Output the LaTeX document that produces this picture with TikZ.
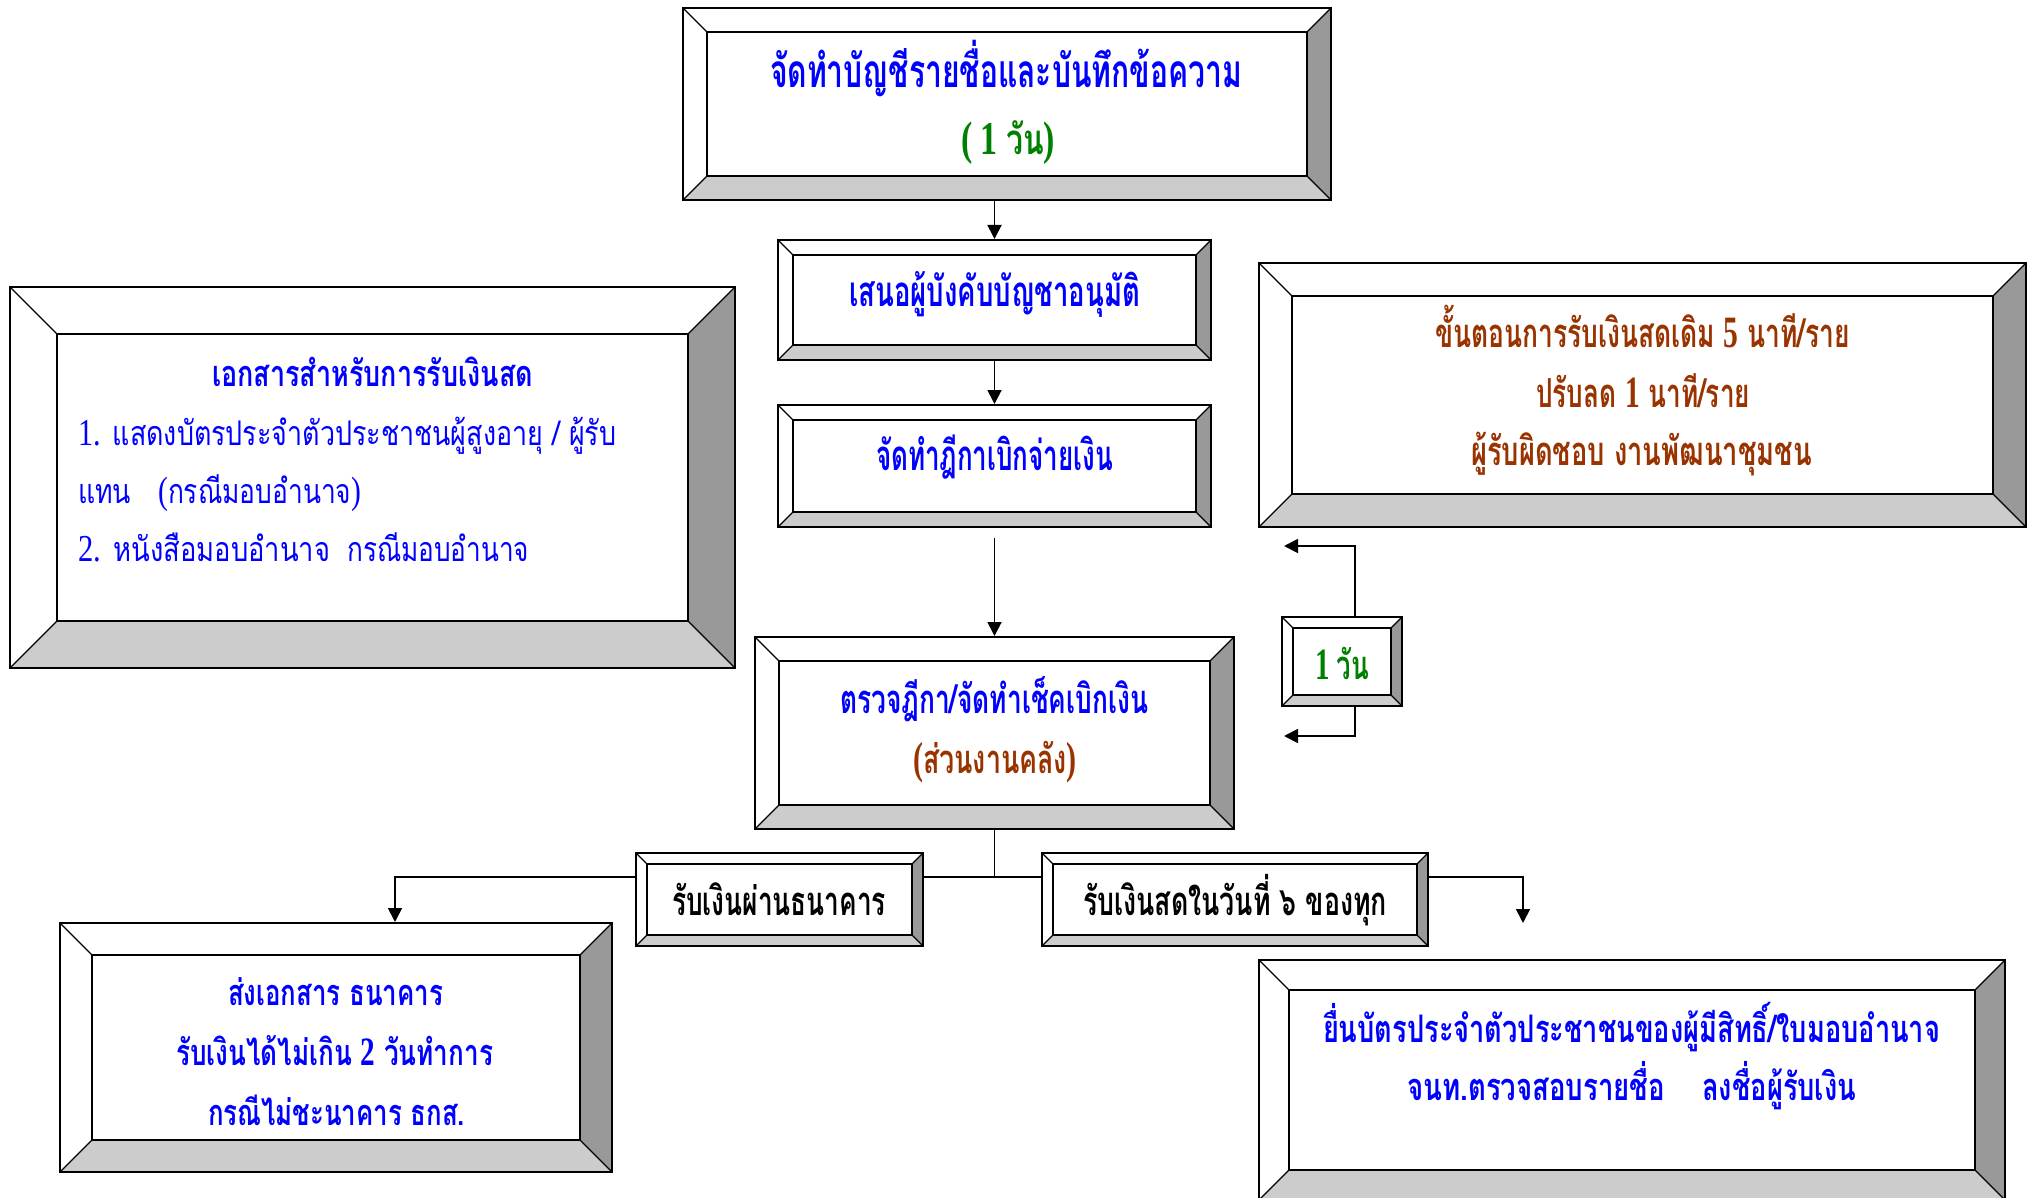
\documentclass[tikz,border=0pt]{standalone}
\usepackage{fontspec}
\usepackage{graphicx}
\usetikzlibrary{arrows.meta,backgrounds}
\newfontfamily\thai[Script=Thai]{Loma}
\newfontfamily\lat{Liberation Serif}
\definecolor{tblue}{RGB}{0,0,255}
\definecolor{tgreen}{RGB}{0,128,0}
\definecolor{tbrown}{RGB}{153,51,0}
\definecolor{bevdark}{RGB}{153,153,153}
\definecolor{bevlight}{RGB}{204,204,204}
\newlength\fitlen
\newcommand\fitto[2]{\settowidth{\fitlen}{#2}\pgfmathsetmacro\fitr{#1/\fitlen}\scalebox{\fitr}[1]{#2}}
\makeatletter
\newcommand\dg[1]{{\lat\fontsize{\fpeval{1.12*\f@size}}{10}\selectfont #1}}
\makeatother
\begin{document}
\begin{tikzpicture}[x=1pt,y=-1pt,
  bev/.style={rectangle, draw=black, line width=2pt, fill=white, inner sep=0pt,
    path picture={
      \path (path picture bounding box.south west) coordinate (bsw)
            (path picture bounding box.north east) coordinate (bne);
      \path (bsw) ++(#1pt,#1pt) coordinate (isw);
      \path (bne) ++(-#1pt,-#1pt) coordinate (ine);
      \fill[bevdark] (bne) -- (ine) -- (isw -| ine) -- (bsw -| bne) -- cycle;
      \fill[bevlight] (bsw) -- (isw) -- (isw -| ine) -- (bsw -| bne) -- cycle;
      \draw[line width=2pt] (isw) rectangle (ine);
      \draw[line width=1.3pt] (bsw) -- (isw) (bne) -- (ine)
        (bsw -| bne) -- (isw -| ine) (bne -| bsw) -- (ine -| isw);
    }},
  conn/.style={draw=black, line width=1.8pt},
  arr/.style={conn, -{Triangle[length=14pt,width=14pt]}},
  bt/.style={inner sep=0pt, anchor=base, font={\thai\bfseries\fontsize{#1}{#1}\selectfont}},
  rt/.style={inner sep=0pt, anchor=base west, font={\thai\fontsize{#1}{#1}\selectfont}}
]
\useasboundingbox (0,0) rectangle (2035,1198);
\clip (0,0) rectangle (2035,1198);
% boxes
\node[bev=24, minimum width=648pt, minimum height=192pt] (A) at (1007,104) {};
\node[bev=15, minimum width=433pt, minimum height=120pt] (B) at (994.5,300) {};
\node[bev=15, minimum width=433pt, minimum height=122pt] (C) at (994.5,466) {};
\node[bev=24, minimum width=479pt, minimum height=192pt] (D) at (994.5,733) {};
\node[bev=47, minimum width=725pt, minimum height=381pt] (E) at (372.5,477.5) {};
\node[bev=33, minimum width=767pt, minimum height=264pt] (F) at (1642.5,395) {};
\node[bev=11, minimum width=120pt, minimum height=89pt] (G) at (1342,661.5) {};
\node[bev=11, minimum width=287pt, minimum height=93pt] (H) at (779.5,899.5) {};
\node[bev=11, minimum width=386pt, minimum height=93pt] (I) at (1235,899.5) {};
\node[bev=32, minimum width=552pt, minimum height=249pt] (J) at (336,1047.5) {};
\node[bev=30, minimum width=746pt, minimum height=240pt] (K) at (1632,1080) {};
% free coordinates
\coordinate (jn) at (994.5,877);
\coordinate (jl) at (395,877);
\coordinate (jr) at (1523,877);
\coordinate (kr) at (1523,923);
\coordinate (gu) at (1284,546);
\coordinate (gd) at (1284,736);
\begin{pgfonlayer}{background}
\fill[white] (0,0) rectangle (2035,1198);
\draw[arr] (A.south -| B.north) -- (B.north);
\draw[arr] (B.south) -- (C.north);
\draw[arr] ([yshift=-10pt]C.south) -- (D.north);
\draw[conn] (D.south) -- (jn);
\draw[arr] (jn) -- (jl) -- (jl |- J.north);
\draw[arr] (jn) -- (jr) -- (kr);
\draw[arr] ([xshift=13pt]G.north) |- (gu);
\draw[arr] ([xshift=13pt]G.south) |- (gd);
\end{pgfonlayer}
% texts
\node[bt=46, text=tblue] (a1) at (1006,88) {\fitto{472}{จัดทำบัญชีรายชื่อและบันทึกข้อความ}};
\node[bt=42, text=tgreen] (a2) at (1008,155) {\fitto{94}{\dg{( 1 }วัน\dg{)}}};
\node[bt=42, text=tblue] (b1) at (994.5,307) {\fitto{291}{เสนอผู้บังคับบัญชาอนุมัติ}};
\node[bt=42, text=tblue] (c1) at (994.5,470) {\fitto{237}{จัดทำฎีกาเบิกจ่ายเงิน}};
\node[bt=40, text=tblue] (d1) at (994,713) {\fitto{308}{ตรวจฎีกา/จัดทำเช็คเบิกเงิน}};
\node[bt=40, text=tbrown] (d2) at (995,773) {\fitto{164}{\dg{(}ส่วนงานคลัง\dg{)}}};
\node[bt=40, text=tgreen] (g1) at (1342,679) {\fitto{54}{\dg{1 }วัน}};
\node[bt=40, text=tbrown] (f1) at (1642.5,348) {\fitto{415}{ขั้นตอนการรับเงินสดเดิม \dg{5} นาที/ราย}};
\node[bt=40, text=tbrown] (f2) at (1643,407) {\fitto{214}{ปรับลด \dg{1} นาที/ราย}};
\node[bt=40, text=tbrown] (f3) at (1641.5,465) {\fitto{341}{ผู้รับผิดชอบ งานพัฒนาชุมชน}};
\node[bt=36, text=tblue] (e0) at (372.5,386) {\fitto{321}{เอกสารสำหรับการรับเงินสด}};
\node[rt=34, text=tblue] (e1) at (78,445) {\fitto{538}{\dg{1.} แสดงบัตรประจำตัวประชาชนผู้สูงอายุ / ผู้รับ}};
\node[rt=34, text=tblue] (e2) at (78,503) {\fitto{53}{แทน}\hspace{27pt}\fitto{203}{\dg{(}กรณีมอบอำนาจ\dg{)}}};
\node[rt=34, text=tblue] (e3) at (78,561) {\fitto{252}{\dg{2.} หนังสือมอบอำนาจ}\hspace{17pt}\fitto{182}{กรณีมอบอำนาจ}};
\node[bt=40, text=black] (h1) at (779,915) {\fitto{214}{รับเงินผ่านธนาคาร}};
\node[bt=40, text=black] (i1) at (1235,915) {\fitto{304}{รับเงินสดในวันที่ ๖ ของทุก}};
\node[bt=36, text=tblue] (j1) at (335.5,1005) {\fitto{215}{ส่งเอกสาร ธนาคาร}};
\node[bt=36, text=tblue] (j2) at (334.5,1065) {\fitto{317}{รับเงินได้ไม่เกิน \dg{2} วันทำการ}};
\node[bt=36, text=tblue] (j3) at (336.5,1125) {\fitto{257}{กรณีไม่ชะนาคาร ธกส.}};
\node[bt=38, text=tblue] (k1) at (1631.5,1042) {\fitto{617}{ยื่นบัตรประจำตัวประชาชนของผู้มีสิทธิ์/ใบมอบอำนาจ}};
\node[bt=38, text=tblue, anchor=base west] (k2) at (1407,1100) {\fitto{258}{จนท.ตรวจสอบรายชื่อ}\hspace{37pt}\fitto{154}{ลงชื่อผู้รับเงิน}};
\end{tikzpicture}
\end{document}
